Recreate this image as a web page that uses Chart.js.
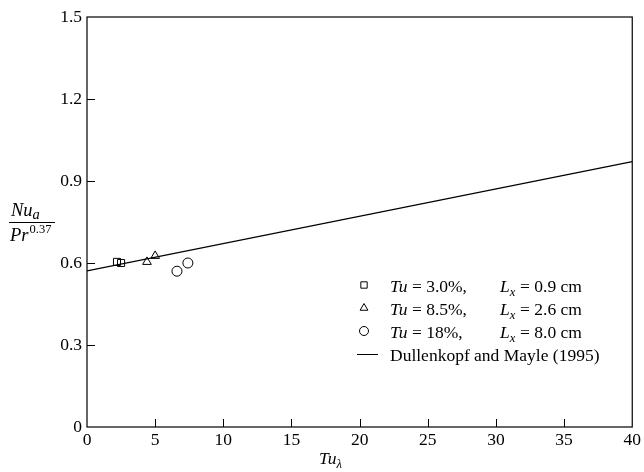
<!DOCTYPE html>
<html><head><meta charset="utf-8">
<script src="https://cdn.jsdelivr.net/npm/chart.js@4/dist/chart.umd.min.js"></script>
<style>html,body{margin:0;background:#fff}</style>
</head><body>
<canvas id="c" width="644" height="472"></canvas>
<script>
// Measured data: Tu_lambda vs Nu_a / Pr^0.37
const tu3Lambda = [2.2, 2.5];
const tu3Nu     = [0.604, 0.600];
const tu85Lambda = [4.4, 5.0];
const tu85Nu     = [0.604, 0.626];
const tu18Lambda = [6.6, 7.4];
const tu18Nu     = [0.570, 0.600];
// Dullenkopf and Mayle (1995) correlation end points
const corrLambda = [0, 40];
const corrNu     = [0.571, 0.971];

const xTicks = [0, 5, 10, 15, 20, 25, 30, 35, 40];
const yTicks = [0, 0.3, 0.6, 0.9, 1.2, 1.5];

const legendTu = ['3.0%,', '8.5%,', '18%,'];
const legendLx = ['0.9 cm', '2.6 cm', '8.0 cm'];
const legendLine = 'Dullenkopf and Mayle (1995)';

const SERIF = '"Liberation Serif", "Times New Roman", serif';
const FS = 17.5;

const pts = (xs, ys) => xs.map((x, i) => ({x, y: ys[i]}));

const frame = {
  id: 'frame',
  afterDraw(chart) {
    const {ctx, chartArea: a, scales: {x, y}} = chart;
    ctx.save();
    ctx.strokeStyle = '#000';
    ctx.lineWidth = 1.2;
    ctx.strokeRect(a.left, a.top, a.right - a.left, a.bottom - a.top);
    // inward tick marks
    ctx.lineWidth = 1;
    ctx.beginPath();
    xTicks.slice(1, -1).forEach(v => {
      const px = Math.round(x.getPixelForValue(v)) + 0.5;
      ctx.moveTo(px, a.bottom); ctx.lineTo(px, a.bottom - 8);
    });
    yTicks.slice(1, -1).forEach(v => {
      const py = Math.round(y.getPixelForValue(v)) + 0.5;
      ctx.moveTo(a.left, py); ctx.lineTo(a.left + 8, py);
    });
    ctx.stroke();

    ctx.fillStyle = '#000';
    ctx.textBaseline = 'alphabetic';
    // x-axis title: Tu with subscript lambda
    ctx.font = `italic ${FS}px ${SERIF}`;
    const tx = 319, ty = 464;
    ctx.fillText('Tu', tx, ty);
    const tw = ctx.measureText('Tu').width;
    ctx.font = `italic ${FS - 5}px ${SERIF}`;
    ctx.fillText('λ', tx + tw, ty + 4);

    // y-axis title: fraction Nu_a / Pr^0.37
    ctx.font = `italic ${FS + 1}px ${SERIF}`;
    ctx.fillText('Nu', 11, 216);
    let w = ctx.measureText('Nu').width;
    ctx.font = `italic ${FS - 3}px ${SERIF}`;
    ctx.fillText('a', 11 + w, 219);
    ctx.beginPath();
    ctx.moveTo(9, 222.5); ctx.lineTo(55, 222.5); ctx.stroke();
    ctx.font = `italic ${FS + 1}px ${SERIF}`;
    ctx.fillText('Pr', 10, 241);
    w = ctx.measureText('Pr').width;
    ctx.font = `${FS - 5}px ${SERIF}`;
    ctx.fillText('0.37', 10 + w + 1, 233);

    // legend
    const mx = 364, tx0 = 390, lx0 = 500;
    const rows = [290, 313, 336, 359];
    const styles = ['rect', 'triangle', 'circle'];
    styles.forEach((s, i) => {
      ctx.fillStyle = 'rgba(0,0,0,0)';
      Chart.helpers.drawPoint(ctx, {pointStyle: s, radius: 4.5, borderWidth: 1, rotation: 0}, mx, rows[i] - 5);
      ctx.fillStyle = '#000';
      ctx.font = `italic ${FS}px ${SERIF}`;
      ctx.fillText('Tu', tx0, rows[i] + 2);
      const uw = ctx.measureText('Tu').width;
      ctx.font = `${FS}px ${SERIF}`;
      ctx.fillText(' = ' + legendTu[i], tx0 + uw, rows[i] + 2);
      ctx.font = `italic ${FS}px ${SERIF}`;
      ctx.fillText('L', lx0, rows[i] + 2);
      const lw = ctx.measureText('L').width;
      ctx.font = `italic ${FS - 5}px ${SERIF}`;
      ctx.fillText('x', lx0 + lw, rows[i] + 6);
      ctx.font = `${FS}px ${SERIF}`;
      ctx.fillText(' = ' + legendLx[i], lx0 + lw + 6, rows[i] + 2);
    });
    ctx.beginPath();
    ctx.moveTo(357, rows[3] - 4.5); ctx.lineTo(378, rows[3] - 4.5); ctx.stroke();
    ctx.font = `${FS}px ${SERIF}`;
    ctx.fillText(legendLine, tx0, rows[3] + 2);
    ctx.restore();
  }
};

const marker = {borderColor: '#000', backgroundColor: 'rgba(0,0,0,0)', borderWidth: 1, pointRadius: 5, showLine: false};

new Chart(document.getElementById('c'), {
  type: 'scatter',
  data: {
    datasets: [
      {...marker, label: 'Tu = 3.0%', data: pts(tu3Lambda, tu3Nu), pointStyle: 'rect'},
      {...marker, label: 'Tu = 8.5%', data: pts(tu85Lambda, tu85Nu), pointStyle: 'triangle'},
      {...marker, label: 'Tu = 18%', data: pts(tu18Lambda, tu18Nu), pointStyle: 'circle'},
      {label: legendLine, type: 'line', data: pts(corrLambda, corrNu), borderColor: '#000', borderWidth: 1.2, pointRadius: 0, showLine: true, fill: false}
    ]
  },
  options: {
    responsive: false,
    animation: false,
    layout: {padding: {top: 17, right: 9, left: 0, bottom: 0}},
    plugins: {legend: {display: false}, tooltip: {enabled: false}},
    scales: {
      x: {
        type: 'linear', min: 0, max: 40,
        afterBuildTicks: s => { s.ticks = xTicks.map(v => ({value: v})); },
        afterFit: s => { s.height = 45; },
        grid: {display: false, drawTicks: false},
        border: {display: false},
        ticks: {color: '#000', padding: 3, maxRotation: 0, font: {family: SERIF, size: FS}}
      },
      y: {
        type: 'linear', min: 0, max: 1.5,
        afterBuildTicks: s => { s.ticks = yTicks.map(v => ({value: v})); },
        afterFit: s => { s.width = 87; },
        grid: {display: false, drawTicks: false},
        border: {display: false},
        ticks: {color: '#000', padding: 5, font: {family: SERIF, size: FS},
                callback: v => v === 0 ? '0' : v.toFixed(1)}
      }
    }
  },
  plugins: [frame]
});
</script>
</body></html>
